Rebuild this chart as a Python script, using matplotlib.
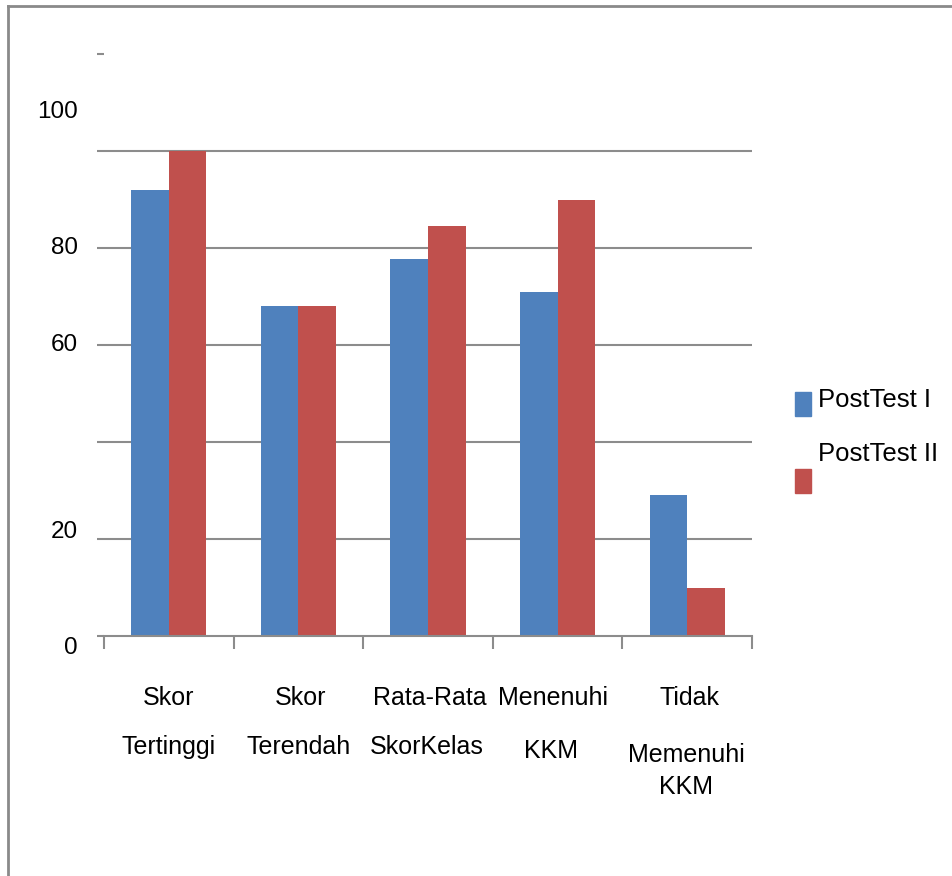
import matplotlib
matplotlib.use("Agg")
import matplotlib.pyplot as plt
from matplotlib.patches import Rectangle
from matplotlib.lines import Line2D
import numpy as np

plt.rcParams['font.family'] = ['Liberation Sans', 'DejaVu Sans']

# Category labels, drawn line by line under each group
categories = [
    ["Skor", "Tertinggi"],
    ["Skor", "Terendah"],
    ["Rata-Rata", "SkorKelas"],
    ["Menenuhi", "KKM"],
    ["Tidak", "Memenuhi", "KKM"],
]
series_names = ["PostTest I", "PostTest II"]
post_test_1 = [92, 68, 77.7, 71, 29]
post_test_2 = [100, 68, 84.5, 90, 10]

# Value axis labels and where they sit
ytick_values = [0, 20, 40, 60, 80, 100, 120]
ylabel_text = ["100", "80", "60", "20", "0"]
ylabel_pos = [108, 80, 60, 21.4, -2.5]
grid_values = [20, 40, 60, 80, 100]

BLUE = "#4F81BD"
RED = "#C0504D"
GRID = "#8c8c8c"

W, H, DPI = 953, 876, 100
fig = plt.figure(figsize=(W / DPI, H / DPI), dpi=DPI)
fig.patch.set_facecolor("white")

ax = fig.add_axes([104 / W, (H - 636) / H, 648 / W, 582 / H])

n = len(categories)
x = np.arange(n)
bw = 0.29
ax.bar(x - bw / 2, post_test_1, width=bw, color=BLUE, zorder=3)
ax.bar(x + bw / 2, post_test_2, width=bw, color=RED, zorder=3)

ax.set_xlim(-0.5, n - 0.5)
ax.set_ylim(0, 120)

# horizontal gridlines
ax.hlines(grid_values, -0.5, n - 0.5, colors=GRID, linewidth=1.5, zorder=1)

for s in ["top", "right", "left"]:
    ax.spines[s].set_visible(False)
ax.spines["bottom"].set_color(GRID)
ax.spines["bottom"].set_linewidth(1.5)
ax.spines["bottom"].set_zorder(4)

ax.set_yticks(ytick_values)
ax.set_yticklabels([])
ax.tick_params(axis="y", length=5, width=1.5, color=GRID, direction="out")

ax.set_xticks(np.arange(n + 1) - 0.5)
ax.set_xticklabels([])
ax.tick_params(axis="x", length=9.4, width=1.5, color=GRID, direction="out")

# value labels on the left
for t, v in zip(ylabel_text, ylabel_pos):
    ax.annotate(t, xy=(0, v), xycoords=("axes fraction", "data"),
                xytext=(-18.7, 0), textcoords="offset points",
                ha="right", va="center", fontsize=17.5, color="black",
                annotation_clip=False)

# category labels below the axis (x shift and baseline offset in pixels)
line_offsets = [
    [(0, 69), (0, 118)],
    [(2, 69), (0, 118)],
    [(2, 69), (-1, 118)],
    [(-5, 69), (-7, 122)],
    [(2, 69), (-1, 126), (-1, 158)],
]
for i, (lines, offs) in enumerate(zip(categories, line_offsets)):
    for txt, (dx, off) in zip(lines, offs):
        ax.annotate(txt, xy=(i, 0), xycoords=("data", "axes fraction"),
                    xytext=(dx * 0.72, -off * 0.72), textcoords="offset points",
                    ha="center", va="baseline", fontsize=18, color="black",
                    annotation_clip=False)

# legend
def fx(px):
    return px / W

def fy(py):
    return 1 - py / H

fig.patches.append(Rectangle((fx(795), fy(416)), 16 / W, 24 / H,
                             transform=fig.transFigure, color=BLUE))
fig.patches.append(Rectangle((fx(795), fy(493)), 16 / W, 24 / H,
                             transform=fig.transFigure, color=RED))
fig.text(fx(818), fy(407), series_names[0], fontsize=18.5, va="baseline", ha="left")
fig.text(fx(818), fy(461), series_names[1], fontsize=18.5, va="baseline", ha="left")

# outer frame (left and top edges)
fig.lines.append(Line2D([fx(8), fx(8)], [fy(6), 0], transform=fig.transFigure,
                        color="#8a8a8a", linewidth=2))
fig.lines.append(Line2D([fx(8), 1], [fy(6), fy(6)], transform=fig.transFigure,
                        color="#8a8a8a", linewidth=2))

fig.savefig("out.png", dpi=DPI)
